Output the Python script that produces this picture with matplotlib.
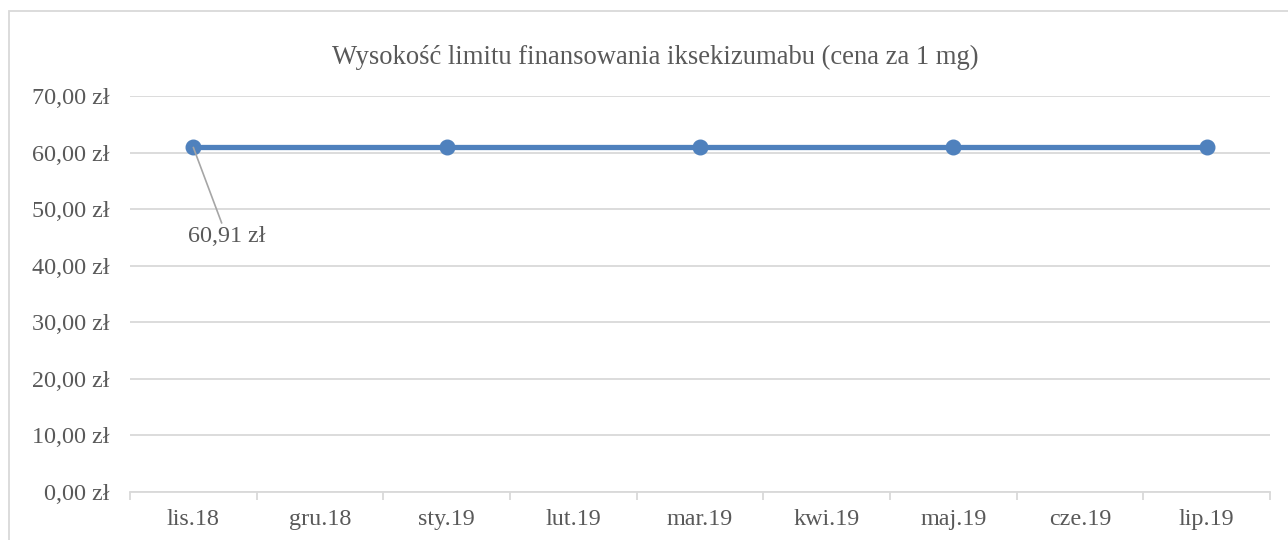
import matplotlib.pyplot as plt
from matplotlib.patches import Rectangle

months = ["lis.18", "gru.18", "sty.19", "lut.19", "mar.19",
          "kwi.19", "maj.19", "cze.19", "lip.19"]
price_months = ["lis.18", "sty.19", "mar.19", "maj.19", "lip.19"]
prices = [60.91, 60.91, 60.91, 60.91, 60.91]
yticks = [0, 10, 20, 30, 40, 50, 60, 70]

plt.rcParams['font.family'] = ['Liberation Serif', 'DejaVu Serif']
txt = '#595959'
grid = '#D9D9D9'
blue = '#4F81BD'
fs = 17.4

fig = plt.figure(figsize=(12.88, 5.4), dpi=100)
ax = fig.add_axes([130 / 1288, 1 - 492 / 540, 1140 / 1288, 396 / 540])

xs = [months.index(m) for m in price_months]
ax.plot(xs, prices, color=blue, lw=3.8, marker='o', ms=10.5,
        solid_capstyle='butt', zorder=3)

ax.set_xlim(-0.5, len(months) - 0.5)
ax.set_ylim(0, 70)
ax.set_yticks(yticks)
ax.set_yticklabels([f"{v:.2f}".replace('.', ',') + " zł" for v in yticks])
ax.set_xticks(range(len(months)))
ax.set_xticklabels(months)
ax.set_xticks([i - 0.5 for i in range(len(months) + 1)], minor=True)

ax.grid(axis='y', color=grid, lw=1.3)
ax.set_axisbelow(True)
for s in ['top', 'right', 'left']:
    ax.spines[s].set_visible(False)
ax.spines['bottom'].set_color(grid)
ax.spines['bottom'].set_linewidth(1.3)
ax.tick_params(axis='y', length=0, pad=14.5, labelsize=fs, labelcolor=txt)
ax.tick_params(axis='x', which='major', length=0, pad=12,
               labelsize=fs, labelcolor=txt)
ax.tick_params(axis='x', which='minor', length=6, width=1.3, color=grid)

ax.annotate(f"{prices[0]:.2f}".replace('.', ',') + " zł",
            xy=(xs[0], prices[0]), xytext=(24, -64),
            textcoords='offset points', ha='center', va='center',
            fontsize=fs, color=txt,
            arrowprops=dict(arrowstyle='-', color='#A6A6A6', lw=1.2,
                            shrinkA=0, shrinkB=0))

fig.text(655 / 1288, 1 - 57 / 540,
         "Wysokość limitu finansowania iksekizumabu (cena za 1 mg)",
         ha='center', va='center', fontsize=19.2, color=txt)

fig.patches.append(Rectangle((9 / 1288, -0.1), 1.1, 1.1 - 11 / 540,
                             transform=fig.transFigure, fill=False,
                             edgecolor=grid, lw=1.3))

fig.savefig("out.png", dpi=100)
